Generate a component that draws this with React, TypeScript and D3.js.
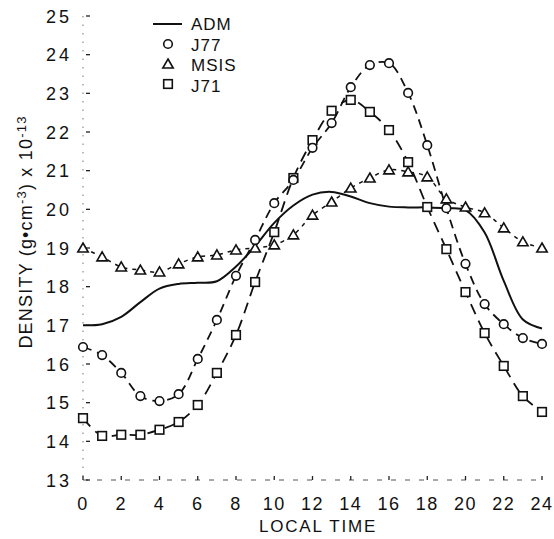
import React from "react";
import * as d3 from "d3";

const hours = [0,1,2,3,4,5,6,7,8,9,10,11,12,13,14,15,16,17,18,19,20,21,22,23,24];
const admValues = [17.0,17.03,17.22,17.6,17.95,18.07,18.1,18.14,18.52,19.05,19.65,20.1,20.38,20.45,20.33,20.16,20.07,20.05,20.05,20.03,19.98,19.4,18.15,17.15,16.92];
const j77Values = [16.44,16.23,15.77,15.17,15.04,15.22,16.13,17.14,18.28,19.21,20.16,20.76,21.59,22.23,23.16,23.73,23.78,23.01,21.66,20.03,18.59,17.55,17.03,16.67,16.52];
const msisValues = [19.0,18.77,18.51,18.43,18.38,18.59,18.77,18.82,18.95,19.0,19.08,19.34,19.85,20.19,20.55,20.81,21.02,20.97,20.84,20.27,20.06,19.91,19.52,19.16,19.0];
const j71Values = [14.6,14.14,14.17,14.17,14.3,14.5,14.94,15.77,16.75,18.12,19.41,20.81,21.79,22.55,22.83,22.52,22.05,21.22,20.06,18.97,17.86,16.8,15.95,15.17,14.76];
const xTicks = [0,2,4,6,8,10,12,14,16,18,20,22,24];
const yTicks = [13,14,15,16,17,18,19,20,21,22,23,24,25];
const legendNames = ["ADM","J77","MSIS","J71"];

const W = 554, H = 539;
const FONT = "'Liberation Sans', Arial, sans-serif";

export default function App() {
  const x = d3.scaleLinear().domain([0, 24]).range([83, 542]);
  const y = d3.scaleLinear().domain([13, 25]).range([480, 16]);
  const line = d3.line<number>()
    .x((_, i) => x(hours[i]))
    .y((d) => y(d))
    .curve(d3.curveCatmullRom.alpha(0.5));

  const circle = (cx: number, cy: number, k: string) => (
    <circle key={k} cx={cx} cy={cy} r={4.3} fill="#fff" stroke="#111" strokeWidth={1.6} />
  );
  const tri = (cx: number, cy: number, k: string) => (
    <path key={k} d={`M${cx},${cy - 5} L${cx + 5.2},${cy + 4} L${cx - 5.2},${cy + 4} Z`} fill="#fff" stroke="#111" strokeWidth={1.6} />
  );
  const sq = (cx: number, cy: number, k: string) => (
    <rect key={k} x={cx - 4.3} y={cy - 4.3} width={8.6} height={8.6} fill="#fff" stroke="#111" strokeWidth={1.6} />
  );

  return (
    <svg width={W} height={H} style={{ position: "absolute", left: 0, top: 0, background: "#fff" }}>
      <rect width={W} height={H} fill="#fff" />
      {/* axes */}
      <line x1={x(0)} x2={x(0)} y1={y(25)} y2={y(13)} stroke="#777" strokeWidth={1} strokeDasharray="1.5,7" />
      <line x1={x(0)} x2={x(24)} y1={y(13)} y2={y(13)} stroke="#555" strokeWidth={1} strokeDasharray="5,9" />
      {yTicks.map((t) => (
        <g key={"yt" + t}>
          <line x1={x(0) + 3} x2={x(0) + 7} y1={y(t)} y2={y(t)} stroke="#222" strokeWidth={1.3} />
          <text x={72} y={y(t) + 6.5} textAnchor="end" fontFamily={FONT} fontSize={18} letterSpacing={3} fill="#111">{t}</text>
        </g>
      ))}
      {xTicks.map((t) => (
        <g key={"xt" + t}>
          <line x1={x(t)} x2={x(t)} y1={y(13)} y2={y(13) - 4} stroke="#222" strokeWidth={1.3} />
          <text x={x(t)} y={510} textAnchor="middle" fontFamily={FONT} fontSize={18} letterSpacing={1.5} fill="#111">{t}</text>
        </g>
      ))}
      <text x={318} y={532} textAnchor="middle" fontFamily={FONT} fontSize={17} letterSpacing={1.8} fill="#111">LOCAL TIME</text>
      <text transform="translate(32,232) rotate(-90)" textAnchor="middle" fontFamily={FONT} fontSize={18} letterSpacing={1.2} fill="#111">
        DENSITY (g•cm<tspan dy={-6} fontSize={13}>-3</tspan><tspan dy={6}>) x 10</tspan><tspan dy={-6} fontSize={13}>-13</tspan>
      </text>

      {/* series lines */}
      <path d={line(admValues) || ""} fill="none" stroke="#111" strokeWidth={2} />
      <path d={line(msisValues) || ""} fill="none" stroke="#111" strokeWidth={1.5} strokeDasharray="4,5" />
      <path d={line(j77Values) || ""} fill="none" stroke="#111" strokeWidth={1.8} strokeDasharray="9,6" />
      <path d={line(j71Values) || ""} fill="none" stroke="#111" strokeWidth={1.8} strokeDasharray="11,7" />

      {/* markers */}
      {msisValues.map((v, i) => tri(x(hours[i]), y(v), "m" + i))}
      {j71Values.map((v, i) => sq(x(hours[i]), y(v), "s" + i))}
      {j77Values.map((v, i) => circle(x(hours[i]), y(v), "c" + i))}

      {/* legend */}
      <line x1={153} x2={182} y1={24} y2={24} stroke="#111" strokeWidth={2} />
      {circle(168, 44, "lc")}
      {tri(168, 64, "lt")}
      {sq(168, 84, "ls")}
      {legendNames.map((n, i) => (
        <text key={n} x={191} y={30 + i * 20.5} fontFamily={FONT} fontSize={17} letterSpacing={1} fill="#111">{n}</text>
      ))}
    </svg>
  );
}
